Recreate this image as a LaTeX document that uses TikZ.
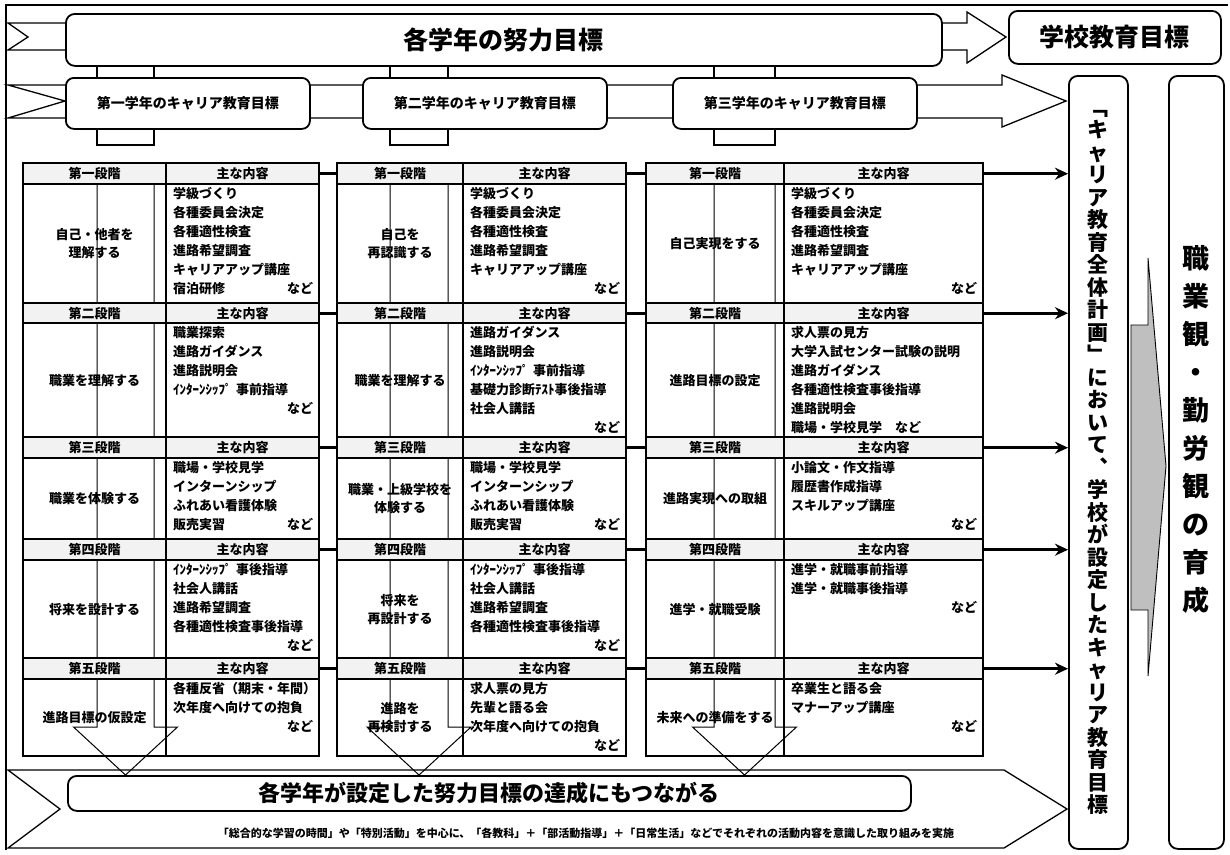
\documentclass[tikz,border=0pt]{standalone}
\usepackage{fontspec}
\setmainfont{Noto Sans CJK JP}
\usetikzlibrary{arrows.meta}
\newcommand\nado{\hspace*{0pt plus 1filll}など}

\begin{document}
\begin{tikzpicture}
    [   x=1pt
    ,   y=-1pt
    ,   outerline/.style={line width=1.2pt}
    ,   blockarrow/.style=
        {   draw
        ,   fill=white
        ,   line width=1.3pt
        }
    ,   rbox/.style=
        {   draw
        ,   fill=white
        ,   rounded corners=9pt
        ,   line width=1.8pt
        ,   inner sep=0pt
        ,   anchor=north west
        }
    ,   shaft/.style={draw, line width=1pt}
    ,   tabline/.style=
        {   draw
        ,   line width=2.4pt
        ,   inner sep=0pt
        ,   anchor=north west
        }
    ,   hdcell/.style=
        {   tabline
        ,   fill=gray!10
        ,   font=\bfseries\fontsize{13}{15}\selectfont
        }
    ,   stage/.style=
        {   align=center
        ,   font=\bfseries\fontsize{13}{18}\selectfont
        }
    ,   items/.style=
        {   anchor=north west
        ,   inner sep=0pt
        ,   xshift=8pt
        ,   yshift=-4pt
        ,   align=left
        ,   text width=#1
        ,   font=\bfseries\fontsize{13}{19}\selectfont
        }
    ,   link/.style={line width=2.6pt}
    ,   >={Stealth[length=13pt,width=12pt]}
    ]
    \useasboundingbox (0,0) rectangle (1230,854);
    \draw[outerline] (6,850) -- (6,5) -- (1228,5);

    \draw[blockarrow] (8,23) -- (967,23) -- (967,12) -- (1006,37) -- (967,63)
        -- (967,50) -- (8,50) -- (28,37) -- cycle;
    \draw[blockarrow] (8,85) -- (1002,85) -- (1002,75) -- (1066,101) -- (1002,127)
        -- (1002,118) -- (8,118) -- (65,101) -- cycle;
    \draw[blockarrow] (8,770) -- (1004,770) -- (1067,809) -- (1004,848)
        -- (8,848) -- (60,809) -- cycle;
    \draw[line width=0.9pt, fill=gray!50] (1131,325) -- (1148,325) -- (1148,258)
        -- (1166,466) -- (1148,676) -- (1148,610) -- (1131,610) -- cycle;

    \foreach \xa/\xb in {97/154, 390/448, 714/775}
    {   \pgfmathsetmacro\xm{(\xa+\xb)/2}
        \draw[line width=1.4pt] (\xa,60) rectangle (\xb,145);
        \draw[shaft] (\xa,162) -- (\xa,727) -- (\xm-52,727) -- (\xm,775)
            -- (\xm+52,727) -- (\xb,727) -- (\xb,162);
    }

    \node[rbox, minimum width=876pt, minimum height=52pt
        , font=\bfseries\fontsize{25}{30}\selectfont]
        (effort) at (65,13) {各学年の努力目標};
    \node[rbox, minimum width=212pt, minimum height=53pt
        , font=\bfseries\fontsize{25}{30}\selectfont]
        (school) at (1008,10) {学校教育目標};
    \foreach \y/\xa/\k in {1/65/一, 2/362/二, 3/672/三}
    {   \node[rbox, rounded corners=8pt, minimum width=244pt, minimum height=51pt
            , font=\bfseries\fontsize{14}{16}\selectfont]
            (year\y) at (\xa,77) {第\k 学年のキャリア教育目標};
    }
    \node[rbox, minimum width=59pt, minimum height=773pt, align=center
        , font=\bfseries\fontsize{21}{22.5}\selectfont] (plan) at (1068,75)
        {﹁\\キ\\ャ\\リ\\ア\\教\\育\\全\\体\\計\\画\\﹂\\に\\お\\い\\て\\︑\\学\\校\\が\\設\\定\\し\\た\\キ\\ャ\\リ\\ア\\教\\育\\目\\標};
    \node[rbox, minimum width=55pt, minimum height=773pt, align=center
        , font=\bfseries\fontsize{27}{38}\selectfont] (view) at (1168,75)
        {職\\業\\観\\・\\勤\\労\\観\\の\\育\\成\\[30pt]};
    \node[rbox, minimum width=843pt, minimum height=35pt
        , font=\bfseries\fontsize{22}{26}\selectfont]
        (reach) at (67,775) {各学年が設定した努力目標の達成にもつながる};
    \node[font=\bfseries\fontsize{11}{13}\selectfont] (note) at (586,833)
        {「総合的な学習の時間」や「特別活動」を中心に、「各教科」＋「部活動指導」＋「日常生活」などでそれぞれの活動内容を意識した取り組みを実施};

    \foreach \c/\xl/\xd/\xr in {1/22/165/318, 2/336/462/625, 3/645/783/982}
    {   \pgfmathsetmacro\wl{\xd-\xl}
        \pgfmathsetmacro\wr{\xr-\xd}
        \foreach \r/\yt/\yh/\yb/\k in {1/162/183/302/一, 2/302/322/436/二, 3/436/457/538/三, 4/538/559/657/四, 5/657/678/755/五}
        {   \pgfmathsetmacro\hh{\yh-\yt}
            \pgfmathsetmacro\hc{\yb-\yh}
            \node[tabline, minimum width=\wl pt, minimum height=\hc pt] (L\c\r) at (\xl,\yh) {};
            \node[tabline, minimum width=\wr pt, minimum height=\hc pt] (R\c\r) at (\xd,\yh) {};
            \node[hdcell, minimum width=\wl pt, minimum height=\hh pt] (S\c\r) at (\xl,\yt) {第\k 段階};
            \node[hdcell, minimum width=\wr pt, minimum height=\hh pt] (N\c\r) at (\xd,\yt) {主な内容};
        }
    }

    \node[stage] (s11) at (L11) {自己・他者を\\理解する};
    \node[stage] (s12) at (L12) {職業を理解する};
    \node[stage] (s13) at (L13) {職業を体験する};
    \node[stage] (s14) at (L14) {将来を設計する};
    \node[stage] (s15) at (L15) {進路目標の仮設定};
    \node[items=140pt] (i11) at (R11.north west)
        {学級づくり\\各種委員会決定\\各種適性検査\\進路希望調査\\キャリアアップ講座\\宿泊研修\nado};
    \node[items=140pt] (i12) at (R12.north west)
        {職業探索\\進路ガイダンス\\進路説明会\\ｲﾝﾀｰﾝｼｯﾌﾟ 事前指導\\\nado};
    \node[items=140pt] (i13) at (R13.north west)
        {職場・学校見学\\インターンシップ\\ふれあい看護体験\\販売実習\nado};
    \node[items=140pt] (i14) at (R14.north west)
        {ｲﾝﾀｰﾝｼｯﾌﾟ 事後指導\\社会人講話\\進路希望調査\\各種適性検査事後指導\\\nado};
    \node[items=140pt] (i15) at (R15.north west)
        {各種反省（期末・年間）\\次年度へ向けての抱負\\\nado};

    \node[stage] (s21) at (L21) {自己を\\再認識する};
    \node[stage] (s22) at (L22) {職業を理解する};
    \node[stage] (s23) at (L23) {職業・上級学校を\\体験する};
    \node[stage] (s24) at (L24) {将来を\\再設計する};
    \node[stage] (s25) at (L25) {進路を\\再検討する};
    \node[items=150pt] (i21) at (R21.north west)
        {学級づくり\\各種委員会決定\\各種適性検査\\進路希望調査\\キャリアアップ講座\\\nado};
    \node[items=150pt] (i22) at (R22.north west)
        {進路ガイダンス\\進路説明会\\ｲﾝﾀｰﾝｼｯﾌﾟ 事前指導\\基礎力診断ﾃｽﾄ事後指導\\社会人講話\\\nado};
    \node[items=150pt] (i23) at (R23.north west)
        {職場・学校見学\\インターンシップ\\ふれあい看護体験\\販売実習\nado};
    \node[items=150pt] (i24) at (R24.north west)
        {ｲﾝﾀｰﾝｼｯﾌﾟ 事後指導\\社会人講話\\進路希望調査\\各種適性検査事後指導\\\nado};
    \node[items=150pt] (i25) at (R25.north west)
        {求人票の見方\\先輩と語る会\\次年度へ向けての抱負\\\nado};

    \node[stage] (s31) at (L31) {自己実現をする};
    \node[stage] (s32) at (L32) {進路目標の設定};
    \node[stage] (s33) at (L33) {進路実現への取組};
    \node[stage] (s34) at (L34) {進学・就職受験};
    \node[stage] (s35) at (L35) {未来への準備をする};
    \node[items=186pt] (i31) at (R31.north west)
        {学級づくり\\各種委員会決定\\各種適性検査\\進路希望調査\\キャリアアップ講座\\\nado};
    \node[items=186pt] (i32) at (R32.north west)
        {求人票の見方\\大学入試センター試験の説明\\進路ガイダンス\\各種適性検査事後指導\\進路説明会\\職場・学校見学\quad など};
    \node[items=186pt] (i33) at (R33.north west)
        {小論文・作文指導\\履歴書作成指導\\スキルアップ講座\\\nado};
    \node[items=186pt] (i34) at (R34.north west)
        {進学・就職事前指導\\進学・就職事後指導\\\nado};
    \node[items=186pt] (i35) at (R35.north west)
        {卒業生と語る会\\マナーアップ講座\\\nado};

    \foreach \r in {1,...,5}
    {   \draw[link] (N1\r.east) -- (S2\r.west);
        \draw[link] (N2\r.east) -- (S3\r.west);
        \draw[link,->] (N3\r.east) -- (N3\r.east -| plan.west);
    }
\end{tikzpicture}
\end{document}
